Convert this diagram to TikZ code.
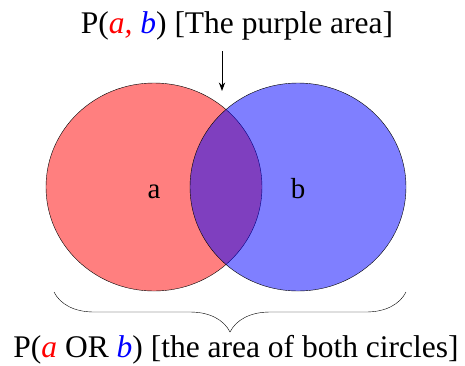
\documentclass[tikz,border=0pt]{standalone}
\usepackage{fontspec}
\setmainfont{Liberation Serif}
\usepackage{xcolor}
\definecolor{cSetA}{HTML}{FF0000}
\definecolor{cSetB}{HTML}{0000FF}
\usepackage{tikz}
\usetikzlibrary{arrows.meta,decorations.pathreplacing}
\tikzset{
  set-a/.style={draw=black,thin,fill=cSetA,fill opacity=0.5},
  set-b/.style={draw=black,thin,fill=cSetB,fill opacity=0.5},
  caption/.style={font=\fontsize{31.5}{36}\selectfont,inner sep=0pt},
  set-label/.style={font=\fontsize{29}{33}\selectfont,inner sep=0pt},
  arrow/.style={-{Stealth[length=3mm,width=2.2mm]},thick,draw=black},
  brace-all/.style={decorate,decoration={brace,amplitude=40pt},thin},
}

\begin{document}
\begin{tikzpicture}[x=1pt,y=-1pt]
  \useasboundingbox (0,0) rectangle (465,365);
  \draw[set-a] (154,187) ellipse [x radius=108,y radius=104];
  \draw[set-b] (298,187) ellipse [x radius=108,y radius=104];
  \node[set-label,anchor=base] (la) at (154,198) {a};
  \node[set-label,anchor=base] (lb) at (298,198) {b};
  \node[caption,anchor=base] (top) at (237,33)
    {P(\textcolor{cSetA}{\textit{a,}} \textcolor{cSetB}{\textit{b}}) [The purple area]};
  \coordinate (arrow-from) at (222,51);
  \coordinate (overlap) at (222,91);
  \draw[arrow] (arrow-from) -- (overlap);
  \coordinate (brace-l) at (54,292);
  \coordinate (brace-r) at (406,292);
  \draw[brace-all] (brace-r) -- (brace-l);
  \node[caption,anchor=base] (bottom) at (236,357)
    {P(\textcolor{cSetA}{\textit{a}} OR \textcolor{cSetB}{\textit{b}}) [the area of both circles]};
\end{tikzpicture}
\end{document}
